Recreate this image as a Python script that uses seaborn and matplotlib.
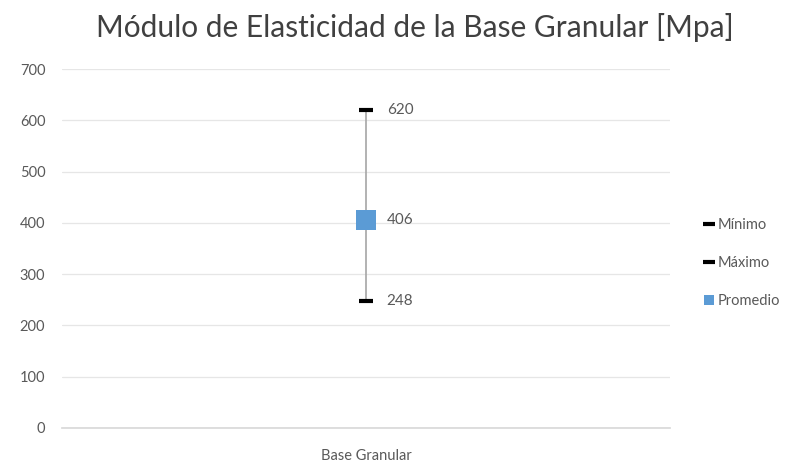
import matplotlib
matplotlib.use("Agg")
import matplotlib.pyplot as plt
import seaborn as sns
import pandas as pd
from matplotlib.lines import Line2D

categories = ["Base Granular"]
minimo = [248]
maximo = [620]
promedio = [406]
yticks = [0, 100, 200, 300, 400, 500, 600, 700]

sns.set_theme(style="white")
plt.rcParams['font.family'] = ['Lato', 'DejaVu Sans']

fig = plt.figure(figsize=(8.09, 4.70), dpi=100)
ax = fig.add_axes([0.0766, 0.0894, 0.7514, 0.7636])

txt = "#595959"
xpos = list(range(len(categories)))

# range line
ax.vlines(xpos, minimo, maximo, color="#a6a6a6", lw=1.2, zorder=1)

df_min = pd.DataFrame({"x": xpos, "y": minimo})
df_max = pd.DataFrame({"x": xpos, "y": maximo})
df_avg = pd.DataFrame({"x": xpos, "y": promedio})

sns.scatterplot(data=df_min, x="x", y="y", marker="_", s=110, linewidth=3,
                color="black", ax=ax, zorder=3, legend=False)
sns.scatterplot(data=df_max, x="x", y="y", marker="_", s=110, linewidth=3,
                color="black", ax=ax, zorder=3, legend=False)
sns.scatterplot(data=df_avg, x="x", y="y", marker="s", s=210, linewidth=0,
                color="#5b9bd5", ax=ax, zorder=4, legend=False)

for xs, vals in [(xpos, minimo), (xpos, maximo), (xpos, promedio)]:
    for x, v in zip(xs, vals):
        ax.annotate(f"{v}", (x, v), xytext=(15, 0), textcoords="offset points",
                    va="center", ha="left", fontsize=11, color=txt)

ax.set_xlim(-0.5, len(categories) - 0.5)
ax.set_ylim(0, 700)
ax.set_yticks(yticks)
ax.set_yticklabels([str(t) for t in yticks])
ax.set_xticks(xpos)
ax.set_xticklabels(categories)
ax.set_xlabel("")
ax.set_ylabel("")
ax.yaxis.grid(True, color="#e6e6e6", lw=0.9)
ax.set_axisbelow(True)
for s in ["top", "right", "left"]:
    ax.spines[s].set_visible(False)
ax.spines["bottom"].set_color("#d9d9d9")
ax.tick_params(axis="both", length=0, labelsize=10.5, colors=txt, pad=12)
ax.tick_params(axis="x", pad=15)

fig.suptitle("Módulo de Elasticidad de la Base Granular [Mpa]", x=0.513, y=0.972,
             fontsize=21.5, color="#404040")

handles = [
    Line2D([], [], marker="_", color="black", ls="none", markersize=9, markeredgewidth=3),
    Line2D([], [], marker="_", color="black", ls="none", markersize=9, markeredgewidth=3),
    Line2D([], [], marker="s", color="#5b9bd5", ls="none", markersize=7, markeredgewidth=0),
]
leg = fig.legend(handles, ["Mínimo", "Máximo", "Promedio"], loc="center left",
                 bbox_to_anchor=(0.855, 0.44), frameon=False, fontsize=10.5,
                 handlelength=0.6, handletextpad=0.3, labelspacing=1.65,
                 labelcolor=txt)

fig.savefig("out.png", dpi=100)
